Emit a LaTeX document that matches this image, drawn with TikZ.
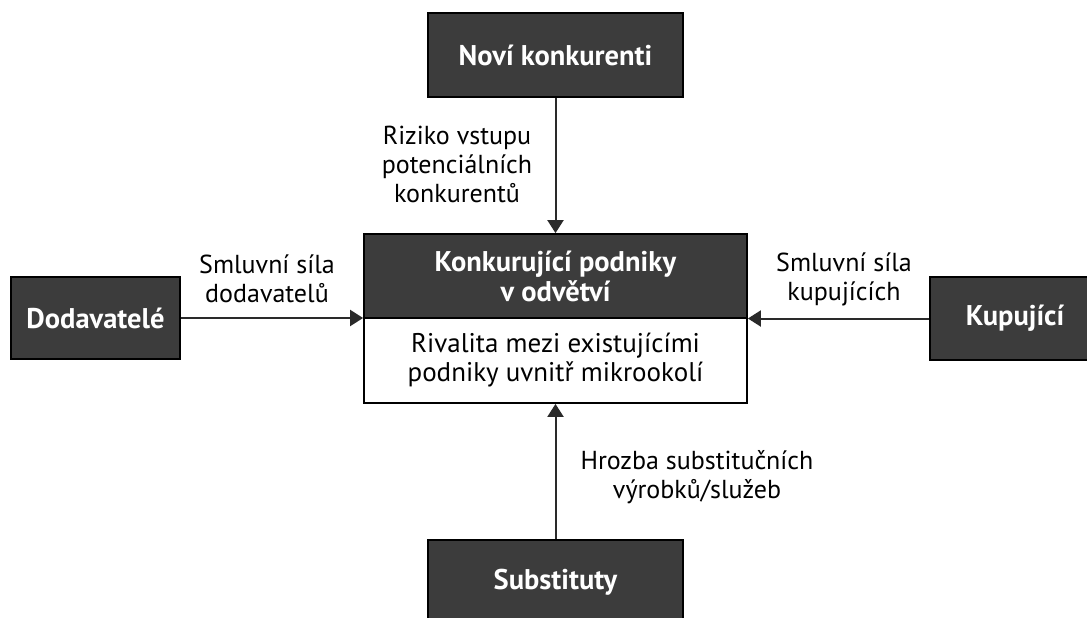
\documentclass[tikz,border=0pt]{standalone}
\usepackage{fontspec}
\setmainfont{PT Sans}
\usetikzlibrary{arrows.meta}
\definecolor{boxgray}{HTML}{3C3C3C}
\definecolor{linegray}{HTML}{2A2A2A}
\begin{document}
\begin{tikzpicture}[x=1pt,y=-1pt,
  darkbox/.style={draw=black, line width=1.8pt, fill=boxgray, text=white,
    font=\bfseries\fontsize{28.5}{30}\selectfont, align=center, inner sep=0pt},
  whitebox/.style={draw=black, line width=1.8pt, fill=white, text=black,
    font=\fontsize{27}{29}\selectfont, align=center, inner sep=0pt},
  lbl/.style={font=\fontsize{26}{29}\selectfont, align=center, text=black, inner sep=0pt},
  conn/.style={line width=2pt, draw=linegray, -{Triangle[length=13pt,width=16pt]}}]
\useasboundingbox (0,0) rectangle (1087,618);
\clip (0,0) rectangle (1087,618);
\fill[white] (0,0) rectangle (1087,618);

\node[darkbox, minimum width=255pt, minimum height=84pt] (top) at (555.5,55) {Noví konkurenti};
\node[darkbox, minimum width=383pt, minimum height=84pt] (hdr) at (555.5,276) {Konkurující podniky\\v odvětví};
\node[whitebox, minimum width=383pt, minimum height=85pt] (body) at (555.5,360.5) {Rivalita mezi existujícími\\podniky uvnitř mikrookolí};
\node[darkbox, minimum width=169pt, minimum height=82pt] (left) at (95.5,318) {Dodavatelé};
\node[darkbox, minimum width=170pt, minimum height=83pt] (right) at (1015,318.5) {Kupující};
\node[darkbox, minimum width=255pt, minimum height=84pt] (bot) at (555.5,582) {Substituty};

\draw[conn] (top.south) -- (hdr.north);
\draw[conn] (left.east) -- (left.east -| hdr.west);
\draw[conn] (right.west) -- (right.west -| hdr.east);
\draw[conn] (bot.north) -- (body.south);

\node[lbl] (ltop) at (457,164) {Riziko vstupu\\potenciálních\\konkurentů};
\node[lbl] (lleft) at (267,279) {Smluvní síla\\dodavatelů};
\node[lbl] (lright) at (844,279) {Smluvní síla\\kupujících};
\node[lbl] (lbot) at (697,477) {Hrozba substitučních\\výrobků/služeb};
\end{tikzpicture}
\end{document}
